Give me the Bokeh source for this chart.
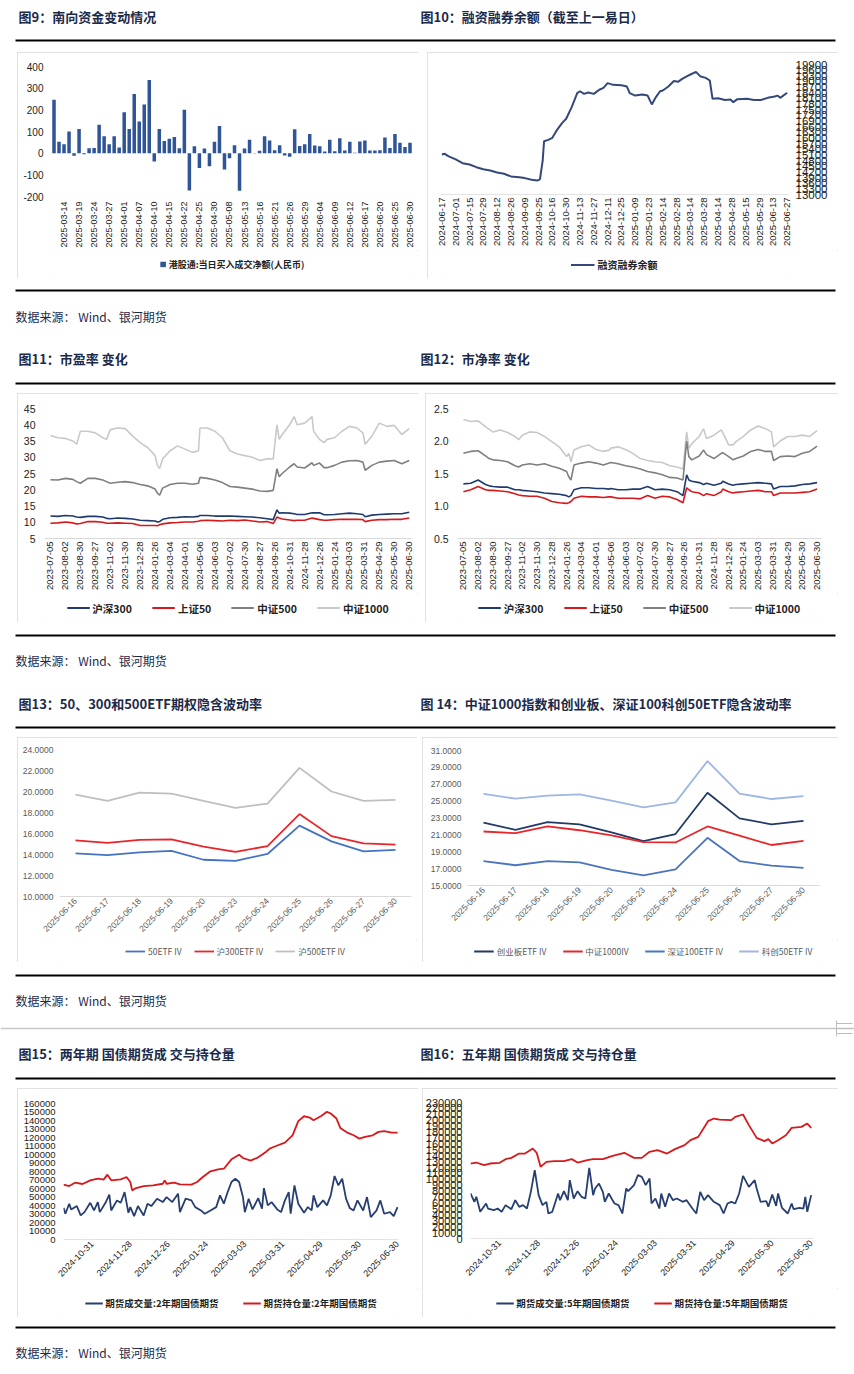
import math
from bokeh.plotting import figure
from bokeh.models import (Range1d, FactorRange, FixedTicker, Legend, LegendItem, Spacer,
                          PrintfTickFormatter, AllLabels)
from bokeh.layouts import column, row
from bokeh.core.properties import value
from bokeh.embed import file_html
from bokeh.resources import INLINE

CJK = "Noto Sans CJK SC"
LAT = "Liberation Sans"
TITLE_C = "#1c2a4a"
SOURCE = "数据来源：  Wind、银河期货"

# ---------------- data: 图9 南向资金 ----------------
sb_dates = ["2025-03-12", "2025-03-13", "2025-03-14", "2025-03-17", "2025-03-18", "2025-03-19",
            "2025-03-20", "2025-03-21", "2025-03-24", "2025-03-25", "2025-03-26", "2025-03-27",
            "2025-03-28", "2025-03-31", "2025-04-01", "2025-04-02", "2025-04-03", "2025-04-07",
            "2025-04-08", "2025-04-09", "2025-04-10", "2025-04-11", "2025-04-14", "2025-04-15",
            "2025-04-16", "2025-04-17", "2025-04-22", "2025-04-23", "2025-04-24", "2025-04-25",
            "2025-04-28", "2025-04-29", "2025-04-30", "2025-05-06", "2025-05-07", "2025-05-08",
            "2025-05-09", "2025-05-12", "2025-05-13", "2025-05-14", "2025-05-15", "2025-05-16",
            "2025-05-19", "2025-05-20", "2025-05-21", "2025-05-22", "2025-05-23", "2025-05-26",
            "2025-05-27", "2025-05-28", "2025-05-29", "2025-05-30", "2025-06-03", "2025-06-04",
            "2025-06-05", "2025-06-06", "2025-06-09", "2025-06-10", "2025-06-11", "2025-06-12",
            "2025-06-13", "2025-06-16", "2025-06-17", "2025-06-18", "2025-06-19", "2025-06-20",
            "2025-06-23", "2025-06-24", "2025-06-25", "2025-06-26", "2025-06-27", "2025-06-30"]
sb_values = [247, 53, 41, 100, -12, 112, -5, 23, 24, 131, 78, 41, 78, 26, 189, 112, 273, 146,
             225, 338, -39, 112, 56, 66, 75, 23, 200, -172, 32, -68, 21, -60, 53, 125, -75, -24,
             36, -173, 21, 62, -2, 11, 78, 59, 14, 36, -11, -17, 110, 33, 41, 89, 35, 32, 8, 62,
             9, 69, 12, 53, 2, 54, 59, 12, 12, 14, 72, 24, 89, 48, 29, 48]
sb_yticks = [-200, -100, 0, 100, 200, 300, 400]
sb_name = "港股通:当日买入成交净额(人民币)"

# ---------------- data: 图10 融资融券余额 ----------------
mt_labels = ["2024-06-17", "2024-07-01", "2024-07-15", "2024-07-29", "2024-08-12", "2024-08-26",
             "2024-09-09", "2024-09-25", "2024-10-16", "2024-10-30", "2024-11-13", "2024-11-27",
             "2024-12-11", "2024-12-25", "2025-01-09", "2025-01-23", "2025-02-14", "2025-02-28",
             "2025-03-14", "2025-03-28", "2025-04-14", "2025-04-28", "2025-05-15", "2025-05-29",
             "2025-06-13", "2025-06-27"]
mt_day = [0, 2, 5, 10, 15, 20, 25, 30, 35, 40, 45, 50, 56, 60, 65, 69, 71, 73, 74, 77, 80, 83, 87,
          90, 94, 98, 100, 103, 106, 110, 114, 117, 120, 124, 130, 134, 136, 140, 145, 149, 152,
          155, 158, 160, 164, 168, 171, 174, 178, 180, 184, 187, 191, 194, 196, 200, 205, 209,
          211, 214, 221, 226, 231, 236, 241, 243, 245, 250]
mt_values = [15120, 15160, 15020, 14860, 14660, 14590, 14450, 14340, 14270, 14170, 14100, 13960,
             13920, 13870, 13780, 13740, 13800, 14800, 15830, 15900, 16010, 16390, 16790, 17020,
             17640, 18380, 18480, 18340, 18410, 18340, 18560, 18660, 18910, 18820, 18800, 18730,
             18380, 18250, 18310, 18250, 17780, 18170, 18480, 18520, 18730, 19020, 18980, 19140,
             19300, 19370, 19510, 19280, 19190, 19050, 18080, 18110, 18020, 18040, 17900, 18060,
             18080, 18020, 18020, 18130, 18200, 18250, 18130, 18400]
mt_yticks = list(range(13000, 19901, 300))
mt_name = "融资融券余额"

# ---------------- data: 图11/12 市盈率 / 市净率 ----------------
val_labels = ["2023-07-05", "2023-08-02", "2023-08-30", "2023-09-27", "2023-11-02", "2023-11-30",
              "2023-12-28", "2024-01-26", "2024-03-04", "2024-04-01", "2024-05-06", "2024-06-03",
              "2024-07-02", "2024-07-30", "2024-08-27", "2024-09-26", "2024-10-31", "2024-11-28",
              "2024-12-26", "2025-01-24", "2025-03-03", "2025-03-31", "2025-04-29", "2025-05-30",
              "2025-06-30"]
val_day = [0, 10, 20, 30, 35, 40, 50, 60, 70, 75, 80, 90, 100, 110, 120, 130, 140, 143, 146, 150,
           160, 170, 180, 190, 198, 200, 210, 220, 230, 240, 250, 260, 270, 280, 290, 298, 303,
           306, 310, 320, 326, 330, 340, 350, 352, 360, 366, 370, 380, 390, 400, 410, 418, 421,
           430, 440, 450, 460, 470, 480]
pe_hs300 = [11.9, 11.8, 12.1, 11.9, 11.6, 11.5, 11.8, 11.8, 11.6, 11.2, 11.1, 11.3, 11.2, 11.0,
            10.6, 10.5, 10.4, 10.1, 10.2, 10.9, 11.4, 11.5, 11.7, 11.6, 11.8, 12.1, 12.1, 11.9,
            11.9, 11.9, 11.8, 11.7, 11.6, 11.4, 11.1, 10.8, 13.8, 12.8, 12.9, 12.8, 12.6, 12.4,
            12.4, 12.9, 12.9, 12.9, 12.3, 12.3, 12.4, 12.6, 12.8, 12.6, 12.4, 11.7, 12.2, 12.4,
            12.5, 12.6, 12.6, 13.1]
pe_sz50 = [9.7, 9.8, 10.1, 9.8, 9.5, 9.6, 10.2, 10.2, 10.0, 9.7, 9.7, 9.8, 9.7, 9.6, 9.0, 9.0,
           9.0, 8.9, 9.2, 9.5, 9.8, 9.9, 10.1, 10.1, 10.3, 10.5, 10.6, 10.5, 10.4, 10.6, 10.5,
           10.7, 10.4, 10.1, 10.2, 9.6, 11.6, 11.3, 11.0, 10.7, 10.5, 10.6, 10.6, 11.3, 11.2,
           10.8, 10.6, 10.6, 10.8, 10.9, 10.9, 10.9, 10.8, 10.2, 10.6, 10.8, 10.8, 10.9, 10.9,
           11.3]
pe_zz500 = [23.1, 23.0, 23.5, 23.2, 22.5, 22.0, 23.5, 23.5, 23.0, 22.5, 22.0, 22.3, 22.5, 22.2,
            21.6, 21.2, 20.2, 19.0, 18.3, 20.5, 21.6, 22.0, 22.0, 21.7, 22.0, 23.8, 23.5, 23.0,
            22.2, 21.0, 20.8, 20.5, 20.2, 19.6, 19.5, 19.8, 26.5, 24.0, 25.0, 27.0, 28.0, 27.0,
            26.7, 28.3, 27.5, 28.2, 26.8, 26.8, 27.5, 28.5, 28.9, 29.0, 28.5, 26.0, 27.5, 28.5,
            28.8, 29.0, 28.0, 29.0]
pe_zz1000 = [36.7, 36.0, 35.8, 35.0, 34.0, 38.0, 38.0, 37.5, 36.0, 35.5, 38.5, 39.0, 38.8, 36.5,
             34.5, 33.0, 30.5, 27.5, 26.5, 29.5, 32.0, 33.5, 32.5, 31.5, 32.0, 39.0, 39.0, 38.0,
             36.0, 32.0, 31.0, 30.5, 30.0, 29.0, 29.5, 29.5, 40.0, 35.5, 37.0, 40.0, 42.5, 40.0,
             40.5, 42.5, 38.0, 35.5, 34.5, 35.5, 36.0, 38.0, 39.5, 39.0, 37.5, 34.0, 36.5, 40.5,
             39.5, 39.8, 37.0, 38.8]
pb_hs300 = [1.34, 1.35, 1.40, 1.33, 1.31, 1.30, 1.29, 1.29, 1.25, 1.25, 1.24, 1.23, 1.22, 1.20,
            1.19, 1.18, 1.16, 1.14, 1.16, 1.25, 1.28, 1.28, 1.27, 1.27, 1.26, 1.27, 1.25, 1.25,
            1.26, 1.26, 1.30, 1.25, 1.26, 1.25, 1.22, 1.16, 1.48, 1.40, 1.38, 1.36, 1.33, 1.35,
            1.32, 1.35, 1.38, 1.34, 1.32, 1.33, 1.34, 1.35, 1.36, 1.35, 1.34, 1.26, 1.30, 1.30,
            1.31, 1.33, 1.34, 1.36]
pb_sz50 = [1.22, 1.25, 1.30, 1.25, 1.24, 1.24, 1.23, 1.22, 1.19, 1.17, 1.16, 1.15, 1.15, 1.12,
           1.07, 1.05, 1.04, 1.05, 1.07, 1.12, 1.15, 1.14, 1.14, 1.13, 1.14, 1.14, 1.12, 1.12,
           1.12, 1.11, 1.16, 1.12, 1.15, 1.14, 1.10, 1.05, 1.28, 1.25, 1.22, 1.20, 1.16, 1.19,
           1.16, 1.22, 1.26, 1.22, 1.20, 1.21, 1.22, 1.23, 1.24, 1.22, 1.22, 1.16, 1.20, 1.20,
           1.20, 1.21, 1.22, 1.26]
pb_zz500 = [1.81, 1.84, 1.85, 1.77, 1.73, 1.71, 1.70, 1.68, 1.62, 1.60, 1.63, 1.65, 1.63, 1.65,
            1.61, 1.58, 1.53, 1.45, 1.40, 1.63, 1.66, 1.68, 1.66, 1.63, 1.66, 1.67, 1.65, 1.62,
            1.60, 1.57, 1.53, 1.51, 1.48, 1.44, 1.43, 1.40, 2.00, 1.76, 1.71, 1.77, 1.86, 1.79,
            1.73, 1.81, 1.82, 1.76, 1.71, 1.73, 1.77, 1.84, 1.87, 1.84, 1.84, 1.70, 1.76, 1.77,
            1.76, 1.81, 1.84, 1.92]
pb_zz1000 = [2.33, 2.30, 2.31, 2.22, 2.18, 2.14, 2.17, 2.13, 2.07, 2.02, 2.09, 2.14, 2.13, 2.07,
             1.99, 1.91, 1.76, 1.81, 1.68, 1.86, 1.91, 1.94, 1.87, 1.84, 1.86, 1.89, 1.91, 1.87,
             1.81, 1.73, 1.70, 1.68, 1.67, 1.62, 1.60, 1.57, 2.14, 1.89, 1.96, 2.07, 2.19, 2.04,
             2.09, 2.17, 2.13, 1.94, 1.94, 1.99, 2.07, 2.17, 2.23, 2.19, 2.14, 1.91, 2.00, 2.07,
             2.07, 2.09, 2.07, 2.16]
pe_yticks = [5, 10, 15, 20, 25, 30, 35, 40, 45]
pb_yticks = [0.5, 1.0, 1.5, 2.0, 2.5]
index_names = ["沪深300", "上证50", "中证500", "中证1000"]

# ---------------- data: 图13/14 隐含波动率 ----------------
iv_dates = ["2025-06-16", "2025-06-17", "2025-06-18", "2025-06-19", "2025-06-20", "2025-06-23",
            "2025-06-24", "2025-06-25", "2025-06-26", "2025-06-27", "2025-06-30"]
iv_50etf = [14.10, 13.95, 14.20, 14.35, 13.50, 13.40, 14.05, 16.75, 15.25, 14.30, 14.45]
iv_300etf = [15.35, 15.10, 15.40, 15.45, 14.75, 14.25, 14.80, 17.85, 15.75, 15.05, 14.95]
iv_500etf = [19.70, 19.10, 19.90, 19.80, 19.10, 18.45, 18.85, 22.25, 20.00, 19.10, 19.20]
iv13_names = ["50ETF IV", "沪300ETF IV", "沪500ETF IV"]
iv_cyb = [22.45, 21.60, 22.50, 22.25, 21.30, 20.25, 21.10, 26.00, 22.95, 22.25, 22.65]
iv_zz1000 = [21.40, 21.20, 22.00, 21.55, 20.95, 20.15, 20.10, 22.00, 20.90, 19.80, 20.30]
iv_sz100 = [17.90, 17.40, 17.90, 17.75, 16.85, 16.20, 16.90, 20.65, 17.90, 17.35, 17.10]
iv_kc50 = [25.85, 25.30, 25.65, 25.80, 25.05, 24.25, 24.85, 29.75, 25.90, 25.25, 25.60]
iv14_names = ["创业板ETF IV", "中证1000IV", "深证100ETF IV", "科创50ETF IV"]
iv13_yticks = [10, 12, 14, 16, 18, 20, 22, 24]
iv14_yticks = [15, 17, 19, 21, 23, 25, 27, 29, 31]

# ---------------- data: 图15/16 国债期货 ----------------
bond_labels = ["2024-10-31", "2024-11-28", "2024-12-26", "2025-01-24", "2025-03-03",
               "2025-03-31", "2025-04-29", "2025-05-30", "2025-06-30"]
b2_oi_day = [0, 3, 6, 10, 14, 18, 21, 23, 25, 30, 33, 35, 36, 38, 42, 47, 52, 53, 54, 58, 61, 67,
             70, 73, 77, 81, 84, 88, 92, 94, 98, 102, 106, 108, 111, 116, 120, 123, 126, 129, 131,
             135, 138, 140, 143, 145, 149, 152, 155, 158, 162, 165, 168, 172, 175]
b2_oi = [64500, 62900, 66800, 65300, 69600, 71500, 70400, 76300, 69600, 70800, 73500, 67600,
         57800, 60500, 62900, 63700, 65600, 69600, 65600, 66800, 64900, 64500, 67600, 73500,
         80200, 82500, 83300, 94300, 99800, 95900, 92800, 96700, 103000, 106900, 109700, 114000,
         122600, 139200, 145000, 143500, 140300, 145400, 150200, 148200, 142300, 131300, 125400,
         122600, 118700, 120700, 122600, 126600, 127400, 125800, 125800]
b2_vol_day = [0, 1, 3, 4, 7, 9, 11, 14, 16, 18, 19, 22, 24, 25, 28, 30, 32, 34, 35, 37, 39, 42,
              44, 46, 49, 52, 54, 57, 60, 61, 64, 67, 69, 72, 74, 77, 80, 82, 84, 86, 88, 90, 92,
              94, 95, 97, 99, 102, 104, 105, 107, 109, 112, 114, 116, 118, 119, 121, 123, 126,
              128, 130, 131, 133, 136, 138, 140, 142, 144, 146, 148, 150, 152, 154, 157, 159,
              161, 164, 166, 168, 171, 173, 175]
b2_vol = [37300, 30300, 42100, 35400, 39300, 28300, 32200, 43200, 34200, 44000, 32200, 43200,
          52700, 34200, 46000, 43200, 55800, 31400, 38100, 27500, 39300, 28300, 42100, 39300,
          48000, 44000, 49900, 44000, 53900, 32200, 48000, 46000, 38100, 34200, 30300, 34200,
          38100, 51900, 42100, 55800, 67600, 71500, 67600, 49900, 32200, 48000, 35400, 48700,
          36200, 60500, 40100, 44000, 35400, 32200, 46000, 55800, 30300, 63700, 42100, 31400,
          38100, 34200, 51900, 38100, 46000, 40100, 51900, 74700, 63700, 71500, 48000, 36900,
          34200, 46000, 34200, 49900, 26300, 34200, 46000, 30300, 32200, 27500, 38100]
b5_oi_day = [0, 3, 7, 10, 15, 18, 21, 25, 28, 32, 34, 36, 39, 43, 48, 52, 55, 60, 63, 68, 73, 79,
             84, 88, 92, 96, 101, 105, 110, 113, 117, 122, 125, 128, 134, 136, 140, 143, 147, 151,
             153, 155, 158, 162, 165, 170, 173, 175]
b5_oi = [126800, 128500, 124000, 126800, 128000, 134200, 136400, 143700, 143700, 152200, 144900,
         121200, 129700, 130800, 130800, 134200, 128500, 132500, 134200, 134200, 139800, 144900,
         136400, 136400, 146600, 149400, 143700, 151100, 157800, 166300, 171900, 198400, 202900,
         201200, 200100, 205700, 209700, 191700, 170200, 164600, 168000, 160700, 166300, 174700,
         187100, 188800, 194500, 187100]
b5_vol_day = [0, 2, 3, 5, 8, 9, 12, 14, 16, 18, 21, 23, 25, 27, 29, 31, 33, 35, 37, 39, 40, 42,
              45, 46, 48, 50, 51, 53, 55, 57, 59, 61, 63, 64, 66, 68, 69, 71, 73, 74, 76, 78, 80,
              81, 84, 86, 88, 90, 92, 93, 95, 97, 98, 100, 102, 104, 106, 109, 111, 114, 116, 118,
              120, 122, 125, 128, 130, 132, 134, 136, 138, 140, 143, 146, 147, 149, 152, 153, 155,
              157, 158, 160, 163, 165, 166, 169, 171, 172, 173, 175]
b5_vol = [76100, 62000, 70500, 45100, 59200, 50700, 47900, 50700, 45100, 56400, 49600, 64800,
          53600, 56400, 50700, 78900, 115600, 73300, 56400, 62000, 42300, 45100, 76100, 64800,
          80000, 64800, 98600, 67600, 80000, 70500, 67600, 119500, 73300, 84600, 93000, 78900,
          62000, 76100, 64800, 59200, 56400, 42300, 84600, 80000, 90200, 107100, 104300, 90200,
          101500, 59200, 67600, 50700, 76100, 53600, 76100, 64800, 67600, 62000, 64800, 50700,
          42300, 78900, 64800, 73300, 62000, 56400, 42300, 59200, 62000, 59200, 76100, 106000,
          87400, 98600, 84600, 62000, 63100, 53600, 74400, 55200, 76100, 51900, 42300, 59200,
          49600, 51900, 50700, 70500, 45100, 73300]
b2_yticks = list(range(0, 160001, 10000))
b5_yticks = list(range(0, 230001, 10000))
b2_names = ["期货成交量:2年期国债期货", "期货持仓量:2年期国债期货"]
b5_names = ["期货成交量:5年期国债期货", "期货持仓量:5年期国债期货"]

NAVY = "#1f3a6e"
RED = "#d7191c"
BOX = {"outline": "1px solid #d9d9d9", "outline-offset": "-1px"}


# ---------------- helpers ----------------
def make_chart(w, h, xr, yr, ml, mr, mt, mb, y_loc="left"):
    p = figure(width=w, height=h, x_range=xr, y_range=yr, output_backend="svg",
               toolbar_location=None, y_axis_location=y_loc,
               min_border_left=ml, min_border_right=mr, min_border_top=mt, min_border_bottom=mb)
    p.outline_line_color = None
    p.xgrid.visible = False
    p.ygrid.visible = False
    for ax in (p.xaxis[0], p.yaxis[0]):
        ax.major_tick_line_color = None
        ax.minor_tick_line_color = None
        ax.major_tick_out = 0
        ax.minor_tick_out = 0
        ax.major_tick_in = 0
        ax.minor_tick_in = 0
        ax.major_label_policy = AllLabels()
    p.yaxis.axis_line_color = None
    return p


def style_ax(ax, size, color, standoff, font=LAT):
    ax.major_label_text_font = font
    ax.major_label_text_font_size = size
    ax.major_label_text_color = color
    ax.major_label_standoff = standoff


def date_axis(p, positions, labels, size, color, standoff, angle):
    p.xaxis.ticker = FixedTicker(ticks=positions)
    p.xaxis.major_label_overrides = {pos: lab for pos, lab in zip(positions, labels)}
    p.xaxis.major_label_orientation = angle
    style_ax(p.xaxis[0], size, color, standoff)


def legend_strip(w, h, names, colors, kind, size, color, style, glyph_w, glyph_h, spacing, lw=1.8):
    # a strip below the plot that carries the legend; the legend's stand-in renderers
    # sit outside the strip's visible range so only their legend glyphs show
    f = figure(width=w, height=h, x_range=Range1d(0, 1), y_range=Range1d(0, 1),
               output_backend="svg", toolbar_location=None, x_axis_location=None,
               y_axis_location=None, min_border=0)
    f.outline_line_color = None
    f.grid.visible = False
    items = []
    for n, c in zip(names, colors):
        if kind == "bar":
            r = f.vbar(x=[5], top=[5], bottom=[4], width=0.5, fill_color=c, line_color=None)
        else:
            r = f.line(x=[5, 6], y=[5, 5], line_color=c, line_width=lw)
        items.append(LegendItem(label=n, renderers=[r]))
    lg = Legend(items=items, orientation="horizontal", location="center",
                glyph_width=glyph_w, glyph_height=glyph_h, label_height=12, label_standoff=3,
                spacing=spacing, padding=1, margin=0, border_line_color=None,
                background_fill_alpha=0, label_text_font=CJK, label_text_font_size=size,
                label_text_color=color, label_text_font_style=style)
    f.add_layout(lg, "center")
    return f


def boxed(chart, strip):
    c = column(chart, strip)
    c.styles = BOX
    return c


# ---------------- 图9 ----------------
c9 = make_chart(401, 198, Range1d(-0.5, len(sb_values) - 0.5), Range1d(-200, 400), 34, 6, 14, 52)
c9.vbar(x=list(range(len(sb_values))), top=sb_values, bottom=0, width=0.7,
        fill_color="#2f5597", line_color=None)
c9.yaxis.ticker = FixedTicker(ticks=sb_yticks)
c9.yaxis.formatter = PrintfTickFormatter(format="%d")
style_ax(c9.yaxis[0], "10px", "#222222", 8)
sb_pos = list(range(2, len(sb_dates), 3))
date_axis(c9, sb_pos, [sb_dates[i] for i in sb_pos], "9px", "#222222", 5, math.pi / 2)
c9.xaxis.axis_line_color = None
l9 = legend_strip(401, 28, [sb_name], ["#2f5597"], "bar", "9px", "#222222", "bold", 7, 7, 10)

# ---------------- 图10 ----------------
c10 = make_chart(411, 198, Range1d(-1, 251), Range1d(13000, 19900), 13, 50, 12, 56, y_loc="right")
c10.line(mt_day, mt_values, line_color="#34497a", line_width=2)
c10.yaxis.ticker = FixedTicker(ticks=mt_yticks)
c10.yaxis.formatter = PrintfTickFormatter(format="%d")
style_ax(c10.yaxis[0], "11.5px", "#222222", 7)
date_axis(c10, [10 * i for i in range(len(mt_labels))], mt_labels, "9.5px", "#222222", 3,
          math.pi / 2)
c10.xaxis.axis_line_color = "#e3e3e3"
l10 = legend_strip(411, 28, [mt_name], ["#34497a"], "line", "10px", "#222222", "bold", 24, 10, 10,
                   lw=2)


# ---------------- 图11 / 图12 ----------------
VAL_COLORS = [NAVY, RED, "#7f7f7f", "#c9c9c9"]


def valuation_chart(w, xr, yr, ml, mr, series, ticks, fmt):
    p = make_chart(w, 200, xr, yr, ml, mr, 15, 54)
    for s, col in zip(series[::-1], VAL_COLORS[::-1]):
        p.line(val_day, s, line_color=col, line_width=1.6)
    p.yaxis.ticker = FixedTicker(ticks=ticks)
    p.yaxis.formatter = PrintfTickFormatter(format=fmt)
    style_ax(p.yaxis[0], "10.5px", "#222222", 9)
    date_axis(p, [20 * i for i in range(len(val_labels))], val_labels, "9.5px", "#222222", 3,
              math.pi / 2)
    p.xaxis.axis_line_color = "#d9d9d9"
    return p


c11 = valuation_chart(401, Range1d(-8, 483), Range1d(5, 45), 27, 7,
                      [pe_hs300, pe_sz50, pe_zz500, pe_zz1000], pe_yticks, "%d")
l11 = legend_strip(401, 29, index_names, VAL_COLORS, "line", "10.5px", "#222222", "bold", 23, 10,
                   20, lw=2)
c12 = valuation_chart(413, Range1d(-8, 486), Range1d(0.5, 2.5), 32, 17,
                      [pb_hs300, pb_sz50, pb_zz500, pb_zz1000], pb_yticks, "%.1f")
l12 = legend_strip(413, 29, index_names, VAL_COLORS, "line", "10.5px", "#222222", "bold", 23, 10,
                   20, lw=2)


# ---------------- 图13 / 图14 ----------------
def iv_chart(w, yr, ml, mr, mt, mb, series, colors, ticks):
    p = make_chart(w, 203, FactorRange(factors=iv_dates), yr, ml, mr, mt, mb)
    for s, c in zip(series, colors):
        p.line(iv_dates, s, line_color=c, line_width=1.8)
    p.yaxis.ticker = FixedTicker(ticks=ticks)
    p.yaxis.formatter = PrintfTickFormatter(format="%.4f")
    style_ax(p.yaxis[0], "8.5px", "#595959", 6)
    p.xaxis.major_label_orientation = math.pi / 4
    style_ax(p.xaxis[0], "8.5px", "#595959", 3)
    p.xaxis.axis_line_color = "#d9d9d9"
    return p


IV13_COLORS = ["#4472c4", "#e8262a", "#bfbfbf"]
IV14_COLORS = ["#223a66", "#e8262a", "#4a74bd", "#9db6e3"]
c13 = iv_chart(400, Range1d(10, 24), 42, 6, 12, 44, [iv_50etf, iv_300etf, iv_500etf],
               IV13_COLORS, iv13_yticks)
l13 = legend_strip(400, 22, iv13_names, IV13_COLORS, "line", "8.5px", "#595959", "normal", 20, 10,
                   12)
c14 = iv_chart(416, Range1d(15, 31), 45, 19, 13, 55, [iv_cyb, iv_zz1000, iv_sz100, iv_kc50],
               IV14_COLORS, iv14_yticks)
l14 = legend_strip(416, 22, iv14_names, IV14_COLORS, "line", "8.5px", "#595959", "normal", 20, 10,
                   16)

# ---------------- 图15 / 图16 ----------------
BOND_COLORS = ["#263f70", RED]


def bond_chart(w, xr, yr, ml, mr, mt, mb, vol_day, vol, oi_day, oi, ticks, ysize):
    p = make_chart(w, 200, xr, yr, ml, mr, mt, mb)
    p.line(vol_day, vol, line_color=BOND_COLORS[0], line_width=1.8)
    p.line(oi_day, oi, line_color=BOND_COLORS[1], line_width=1.8)
    p.yaxis.ticker = FixedTicker(ticks=ticks)
    p.yaxis.formatter = PrintfTickFormatter(format="%d")
    style_ax(p.yaxis[0], ysize, "#222222", 8)
    date_axis(p, [15 + 20 * i for i in range(len(bond_labels))], bond_labels, "9px", "#222222",
              3, math.pi / 4)
    p.xaxis.axis_line_color = "#e3e3e3"
    return p


c15 = bond_chart(401, Range1d(0, 175.5), Range1d(0, 160000), 46, 20, 15, 49,
                 b2_vol_day, b2_vol, b2_oi_day, b2_oi, b2_yticks, "9.5px")
l15 = legend_strip(401, 29, b2_names, BOND_COLORS, "line", "9.5px", "#222222", "bold", 18, 10, 24,
                   lw=2)
c16 = bond_chart(416, Range1d(0, 176.2), Range1d(0, 230000), 48, 25, 14, 50,
                 b5_vol_day, b5_vol, b5_oi_day, b5_oi, b5_yticks, "11px")
l16 = legend_strip(416, 29, b5_names, BOND_COLORS, "line", "9.5px", "#222222", "bold", 18, 10, 24,
                   lw=2)


# ---------------- page bands (titles, rules, sources) ----------------
def band(h):
    p = figure(width=854, height=h, x_range=Range1d(0, 854), y_range=Range1d(h, 0),
               output_backend="svg", toolbar_location=None, x_axis_location=None,
               y_axis_location=None, min_border=0)
    p.outline_line_color = None
    p.grid.visible = False
    return p


def rule(p, y):
    p.segment(x0=[15], y0=[y], x1=[835], y1=[y], line_color="black", line_width=2)


def titles(p, y, left, right):
    p.text(x=[18, 420], y=[y, y], text=[left, right], text_font=value(CJK),
           text_font_size=value("13px"), text_font_style="bold", text_color=TITLE_C,
           text_baseline="middle")


def source(p, y):
    p.text(x=[15], y=[y], text=[SOURCE], text_font=value(CJK), text_font_size=value("12px"),
           text_color=TITLE_C, text_baseline="middle")


b0 = band(52)
titles(b0, 16, "图9：南向资金变动情况", "图10：融资融券余额（截至上一易日）")
rule(b0, 40)

b1 = band(115)
rule(b1, 12)
source(b1, 38)
titles(b1, 80, "图11：市盈率 变化", "图12：市净率 变化")
rule(b1, 105)

b2 = band(115)
rule(b2, 13)
source(b2, 38)
titles(b2, 81, "图13：50、300和500ETF期权隐含波动率", "图 14：中证1000指数和创业板、深证100科创50ETF隐含波动率")
rule(b2, 105)

b3 = band(126)
rule(b3, 13)
source(b3, 38)
b3.segment(x0=[0], y0=[66], x1=[854], y1=[66], line_color="#c8c8c8", line_width=1.5)
b3.segment(x0=[836, 836, 836], y0=[61, 66, 71], x1=[852, 852, 852], y1=[61, 66, 71],
           line_color="#bdbdbd", line_width=1)
b3.segment(x0=[836], y0=[58], x1=[836], y1=[74], line_color="#bdbdbd", line_width=1)
titles(b3, 91, "图15：两年期 国债期货成 交与持仓量", "图16：五年期 国债期货成 交与持仓量")
rule(b3, 116)

b4 = band(52)
rule(b4, 10)
source(b4, 35)

layout = column(
    b0,
    row(Spacer(width=17, height=226), boxed(c9, l9), Spacer(width=9, height=226), boxed(c10, l10)),
    b1,
    row(Spacer(width=17, height=229), boxed(c11, l11), Spacer(width=7, height=229),
        boxed(c12, l12)),
    b2,
    row(Spacer(width=17, height=225), boxed(c13, l13), Spacer(width=5, height=225),
        boxed(c14, l14)),
    b3,
    row(Spacer(width=17, height=229), boxed(c15, l15), Spacer(width=4, height=229),
        boxed(c16, l16)),
    b4,
)

open("out.html", "w").write(file_html(layout, INLINE))
